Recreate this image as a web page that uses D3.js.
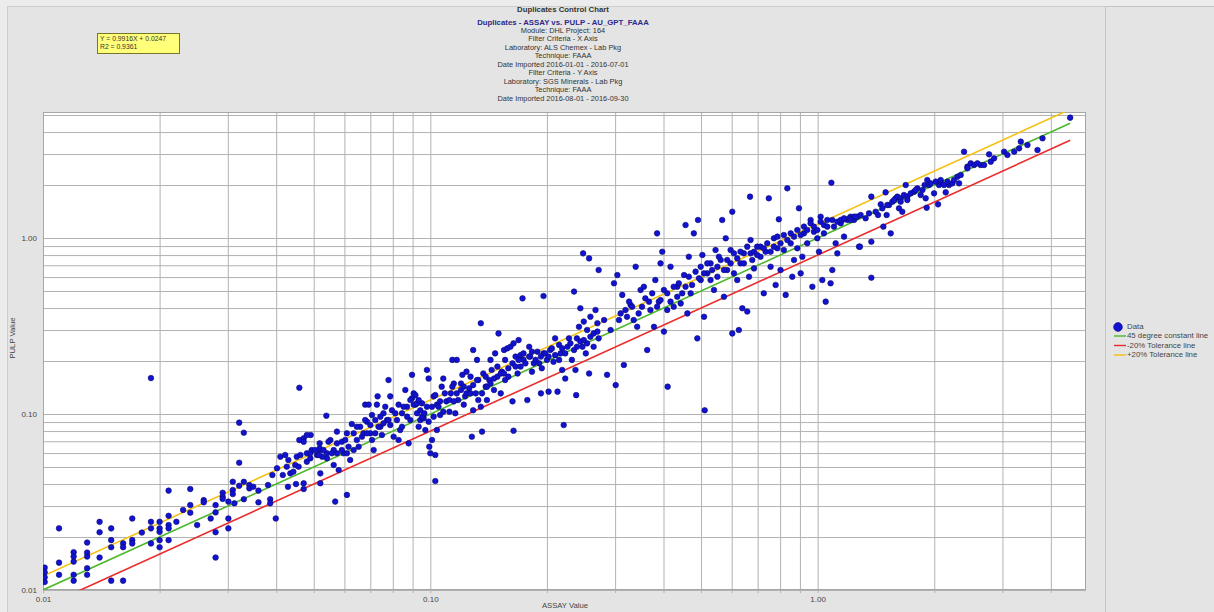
<!DOCTYPE html>
<html>
<head>
<meta charset="utf-8">
<script src="https://cdn.jsdelivr.net/npm/d3@7/dist/d3.min.js"></script>
<style>
  html, body { margin: 0; padding: 0; background: #e6e6e6; }
  svg { display: block; font-family: "Liberation Sans", Arial, sans-serif; }
</style>
</head>
<body>
<svg id="chart" width="1214" height="612"></svg>
<script>
// Duplicate pairs [ASSAY, PULP], grouped by assay range
const pairsLow = [
  [0.0101,0.0134],[0.0101,0.0126],[0.0101,0.0118],[0.0101,0.0111],[0.0110,0.0224],[0.0110,0.0143],
  [0.0110,0.0122],[0.0120,0.0164],[0.0120,0.0155],[0.0120,0.0145],[0.0120,0.0122],[0.0120,0.0113],
  [0.0130,0.0186],[0.0130,0.0163],[0.0130,0.0155],[0.0130,0.0133],[0.0130,0.0122],[0.0140,0.0244],
  [0.0140,0.0213],[0.0140,0.0153],[0.0150,0.0224],[0.0150,0.0192],[0.0150,0.0175],[0.0150,0.0113],
  [0.0161,0.0184],[0.0161,0.0175],[0.0161,0.0113],[0.0170,0.0255],[0.0170,0.0192],[0.0170,0.0184],
  [0.0180,0.0212],[0.0190,0.0244],[0.0190,0.0224],[0.0190,0.0184],[0.0190,0.160],[0.0200,0.0244],
  [0.0200,0.0224],[0.0200,0.0214],[0.0200,0.0192],[0.0200,0.0175],[0.0211,0.0367],[0.0211,0.0264],
  [0.0211,0.0234],[0.0211,0.0224],[0.0211,0.0192],[0.0221,0.0244],[0.0230,0.0285],[0.0240,0.0375],
  [0.0240,0.0304],[0.0240,0.0275],[0.0250,0.0234],[0.0260,0.0324],[0.0260,0.0315],[0.0271,0.0255],
  [0.0279,0.0304],[0.0279,0.0276],[0.0279,0.0213],[0.0279,0.0153],[0.0291,0.0357],[0.0291,0.0339],
  [0.0291,0.0329],[0.0301,0.0318],[0.0301,0.0255],[0.0301,0.0224],[0.0309,0.0412],[0.0309,0.0370],
  [0.0309,0.0351],[0.0312,0.0311],[0.0321,0.0893],[0.0321,0.0529],[0.0321,0.0391],[0.0330,0.0783],
  [0.0330,0.0412],[0.0330,0.0328],[0.0341,0.0395],[0.0341,0.0378],[0.0349,0.0386],[0.0360,0.0367],
  [0.0360,0.0315],[0.0381,0.0395],[0.0386,0.0328],[0.0386,0.0311],[0.0399,0.0255],[0.0391,0.0450],
  [0.0402,0.0492],[0.0410,0.0572],[0.0416,0.0450],[0.0422,0.0585],[0.0426,0.0502],[0.0430,0.0548],
  [0.0435,0.0460],[0.0443,0.0470],[0.0448,0.0513],[0.0452,0.0572],[0.0457,0.0502],[0.0462,0.0585],
  [0.0429,0.0386],[0.0450,0.0400],[0.0471,0.0404],[0.0471,0.0375],[0.0480,0.0598],[0.0480,0.0536],
  [0.0490,0.0560],[0.0510,0.0585],[0.0520,0.0624],[0.0459,0.141],[0.0459,0.0711],[0.0471,0.0728],
  [0.0491,0.0760],[0.0518,0.0681],[0.0518,0.0638],[0.0520,0.0460],[0.0520,0.0404],[0.0539,0.0978],
  [0.0541,0.0598],[0.0541,0.0560],[0.0552,0.0711],[0.0563,0.0513],[0.0574,0.0794],[0.0574,0.0681],
  [0.0568,0.0318],[0.0580,0.0480],[0.0494,0.0624],[0.0526,0.0572],[0.0563,0.0624],
  [0.0471,0.0696],[0.0480,0.0760],[0.0490,0.0598],[0.0504,0.0624],[0.0515,0.0585],[0.0530,0.0624],
  [0.0546,0.0696],[0.0557,0.0598],[0.0574,0.0598]
];

const pairsMid = [
  [0.0591,0.0696],[0.0597,0.0598],[0.0609,0.0777],[0.0609,0.0347],[0.0621,0.0548],[0.0627,0.0877],
  [0.0634,0.0624],[0.0646,0.0712],[0.0659,0.0847],[0.0666,0.0743],[0.0679,0.113],[0.0686,0.0905],
  [0.0693,0.113],[0.0700,0.0777],[0.0707,0.0712],[0.0714,0.0624],[0.0721,0.0924],[0.0728,0.113],
  [0.0731,0.126],[0.0743,0.0847],[0.0750,0.0760],[0.0757,0.101],[0.0773,0.0924],[0.0780,0.156],
  [0.0788,0.126],[0.0788,0.0866],[0.0804,0.0743],[0.0820,0.0924],[0.0828,0.0712],[0.0836,0.0811],
  [0.0845,0.101],[0.0862,0.137],[0.0871,0.110],[0.0879,0.0681],[0.0888,0.0924],[0.0897,0.123],
  [0.0897,0.167],[0.0906,0.131],[0.0915,0.113],[0.0924,0.101],[0.0933,0.0847],[0.0942,0.0924],
  [0.0952,0.115],[0.0961,0.0945],[0.0971,0.0811],[0.0980,0.178],[0.0990,0.159],[0.0990,0.0905],
  [0.0994,0.0652],[0.100,0.0598],[0.101,0.0712],[0.102,0.126],[0.103,0.0416],[0.103,0.0585],
  [0.104,0.0811],[0.104,0.113],[0.106,0.0987],[0.107,0.143],[0.108,0.159],[0.110,0.118],
  [0.112,0.103],[0.113,0.131],[0.114,0.203],[0.115,0.149],[0.116,0.101],[0.117,0.203],
  [0.118,0.120],[0.120,0.137],[0.121,0.167],[0.122,0.113],[0.123,0.126],[0.124,0.174],
  [0.126,0.140],[0.127,0.163],[0.128,0.0743],[0.129,0.231],[0.129,0.105],[0.131,0.131],
  [0.132,0.203],[0.133,0.156],[0.135,0.328],[0.135,0.110],[0.136,0.0794],[0.137,0.170],
  [0.139,0.143],[0.140,0.120],[0.142,0.156],[0.143,0.203],[0.144,0.178],[0.146,0.137],
  [0.147,0.221],[0.149,0.163],[0.150,0.287],[0.152,0.131],[0.153,0.174],[0.155,0.231],
  [0.156,0.156],[0.158,0.236],[0.159,0.182],[0.161,0.241],[0.163,0.118],[0.164,0.0804],
  [0.164,0.252],[0.166,0.212],[0.168,0.170],[0.169,0.263],[0.171,0.216],[0.173,0.454],
  [0.174,0.203],[0.178,0.120],[0.180,0.241],[0.181,0.212],[0.183,0.174],[0.185,0.194],
  [0.189,0.226],[0.193,0.131],[0.194,0.182],[0.196,0.468],[0.196,0.221],[0.200,0.203],
  [0.202,0.134],[0.204,0.231],[0.208,0.198],[0.210,0.269],[0.213,0.134],[0.215,0.247],
  [0.217,0.221],[0.219,0.178],[0.221,0.0866],[0.223,0.159],[0.226,0.241],[0.228,0.269],
  [0.232,0.203],[0.235,0.496],[0.237,0.178],[0.238,0.128],[0.239,0.269],[0.242,0.313],
  [0.244,0.399],[0.247,0.241],[0.248,0.818],[0.249,0.335],[0.252,0.221],[0.254,0.300],
  [0.257,0.170],[0.257,0.766],[0.259,0.357],[0.264,0.241],[0.267,0.390],[0.270,0.328],
  [0.272,0.269],[0.272,0.658],
  [0.0591,0.0624],[0.0603,0.0712],[0.0609,0.0598],[0.0615,0.0652],[0.0634,0.0777],[0.0646,0.0847],
  [0.0653,0.0652],[0.0672,0.0777],[0.0679,0.0924],[0.0686,0.0777],[0.0700,0.0866],[0.0707,0.0987],
  [0.0721,0.0777],[0.0735,0.0847],[0.0743,0.0966],[0.0757,0.0885],[0.0765,0.110],[0.0780,0.0924],
  [0.0796,0.105],[0.0812,0.101],[0.0828,0.113],[0.0845,0.0847],[0.0853,0.110],[0.0871,0.0966],
  [0.0888,0.120],[0.0906,0.113],[0.0915,0.128],[0.0924,0.115],[0.0933,0.120],[0.0942,0.105],
  [0.0952,0.0966],[0.0965,0.101],[0.0980,0.110],[0.101,0.110],[0.102,0.0966],[0.103,0.128],
  [0.105,0.110],[0.106,0.118],[0.108,0.103],[0.109,0.131],[0.112,0.120],[0.114,0.143],
  [0.115,0.118],[0.117,0.131],[0.120,0.149],[0.122,0.143],[0.124,0.131],[0.127,0.131],
  [0.129,0.146],[0.132,0.156],[0.133,0.120],[0.136,0.131],[0.139,0.163],[0.140,0.143],
  [0.143,0.149],[0.146,0.159],[0.149,0.186],[0.152,0.170],[0.155,0.170],[0.156,0.203],
  [0.159,0.163],[0.163,0.194],[0.166,0.186],[0.169,0.203],[0.171,0.186],[0.174,0.221],
  [0.176,0.194],[0.180,0.212],[0.183,0.226],[0.187,0.203],[0.191,0.194],[0.193,0.212],
  [0.198,0.221],[0.202,0.212],[0.206,0.236],[0.210,0.216],[0.215,0.203],[0.219,0.236],
  [0.223,0.221],[0.230,0.252],[0.235,0.231],[0.239,0.241],[0.244,0.258],[0.249,0.263],
  [0.254,0.252],[0.259,0.275],[0.264,0.287],[0.270,0.294]
];

const pairsHigh = [
  [0.286,0.167],[0.298,0.553],[0.301,0.146],[0.304,0.616],[0.313,0.475],[0.316,0.190],
  [0.322,0.357],[0.329,0.416],[0.339,0.687],[0.342,0.313],[0.349,0.507],[0.356,0.529],
  [0.363,0.231],[0.370,0.390],[0.378,0.313],[0.381,0.577],[0.385,1.063],[0.389,0.435],
  [0.393,0.718],[0.397,0.836],[0.401,0.294],[0.409,0.485],[0.410,0.143],[0.417,0.687],
  [0.425,0.407],[0.434,0.529],[0.443,0.425],[0.452,0.616],[0.456,1.185],[0.461,0.373],
  [0.465,0.783],[0.470,0.485],[0.479,1.063],[0.489,0.269],[0.491,1.266],[0.499,0.577],
  [0.504,0.801],[0.509,0.357],[0.511,0.105],[0.519,0.630],[0.529,0.718],[0.540,0.507],
  [0.545,0.855],[0.551,0.603],[0.562,0.750],[0.567,1.266],[0.573,0.464],[0.579,0.996],
  [0.584,0.658],[0.596,0.855],[0.602,0.287],[0.602,1.411],[0.608,0.630],[0.620,0.577],
  [0.626,0.300],[0.632,0.718],[0.639,0.399],[0.645,0.818],[0.658,0.382],[0.665,0.603],
  [0.669,1.718],[0.671,0.974],[0.678,0.750],[0.685,0.672],[0.698,0.893],[0.712,0.783],
  [0.726,0.485],[0.734,0.836],[0.748,1.681],[0.756,0.687],[0.771,0.996],[0.779,0.541],
  [0.787,0.874],[0.794,1.277],[0.802,0.658],[0.818,0.855],[0.827,0.475],[0.835,1.915],
  [0.852,0.933],[0.860,0.603],[0.869,0.750],[0.886,0.874],[0.895,1.475],[0.904,0.630],
  [0.913,0.783],[0.922,1.063],[0.940,0.933],[0.959,1.266],[0.969,0.529],[0.978,1.086],
  [0.998,0.996],[1.008,0.836],[1.018,1.322],[1.028,0.577],[1.038,1.063],[1.049,0.435],
  [1.059,1.266],[1.080,0.553],[1.085,2.062],[1.091,0.658],[1.102,1.160],[1.113,0.933],
  [1.124,0.818],[1.147,1.212],[1.158,1.266],[1.170,1.018],[1.193,1.266],[1.217,1.322],
  [1.241,1.266],[1.266,1.322],[1.279,0.893],
  [0.281,0.342],[0.292,0.300],[0.307,0.342],[0.310,0.373],[0.319,0.390],[0.326,0.435],
  [0.332,0.407],[0.335,0.342],[0.345,0.373],[0.352,0.407],[0.359,0.454],[0.367,0.435],
  [0.374,0.485],[0.385,0.407],[0.393,0.444],[0.401,0.507],[0.409,0.390],[0.417,0.435],
  [0.425,0.529],[0.434,0.464],[0.438,0.553],[0.447,0.485],[0.456,0.529],[0.465,0.603],
  [0.474,0.541],[0.484,0.644],[0.494,0.590],[0.499,0.687],[0.509,0.630],[0.519,0.718],
  [0.529,0.577],[0.534,0.658],[0.551,0.687],[0.556,0.783],[0.573,0.658],[0.584,0.750],
  [0.596,0.718],[0.608,0.818],[0.620,0.766],[0.632,0.836],[0.645,0.718],[0.658,0.893],
  [0.671,0.818],[0.685,0.836],[0.698,0.801],[0.712,0.893],[0.726,0.874],[0.741,0.933],
  [0.756,0.836],[0.771,0.893],[0.787,1.018],[0.802,0.933],[0.818,1.040],[0.835,0.974],
  [0.852,1.063],[0.869,1.018],[0.886,1.110],[0.904,1.040],[0.922,1.160],[0.940,1.110],
  [0.959,1.212],[0.978,1.160],[0.998,1.110],[1.018,1.238],[1.038,1.185],[1.059,1.160],
  [1.091,1.266],[1.124,1.238],[1.147,1.266],[1.170,1.294],[1.205,1.294],[1.217,1.266],
  [1.241,1.322],[1.254,1.322]
];

const pairsTop = [
  [1.286,0.893],[1.376,0.953],[1.376,1.718],[1.376,0.595],[1.432,1.351],[1.455,1.553],
  [1.478,1.160],[1.498,1.818],[1.507,1.351],[1.529,1.540],[1.544,1.063],[1.559,1.608],
  [1.590,1.681],[1.606,1.718],[1.622,1.475],[1.638,1.681],[1.654,1.411],[1.671,1.755],
  [1.688,2.001],[1.704,1.718],[1.739,1.794],[1.774,1.834],[1.809,1.915],[1.845,1.755],
  [1.889,2.001],[1.901,1.681],[1.912,1.487],[1.919,2.136],[1.939,2.001],[1.998,1.794],
  [2.018,2.090],[2.046,1.553],[2.058,2.001],[2.078,2.090],[2.120,2.001],[2.141,1.818],
  [2.184,2.001],[2.228,2.045],[2.295,2.231],[2.318,2.045],[2.388,3.094],[2.436,2.543],
  [2.485,2.657],[2.535,2.599],[2.637,2.599],[2.690,2.599],[2.771,2.988],[2.799,2.715],
  [3.030,3.094],[3.313,3.232],[3.346,3.527],[3.695,3.162],[3.807,3.685],[4.487,4.830],
  [1.291,1.351],[1.330,1.294],[1.357,1.381],[1.412,1.411],[1.469,1.475],[1.513,1.540],
  [1.575,1.644],[1.638,1.608],[1.704,1.644],[1.791,1.874],[1.864,1.874],[1.958,2.045],
  [2.078,2.136],[2.163,2.090],[2.250,2.136],[2.341,2.280],[2.436,2.488],[2.585,2.657],
  [2.855,2.836],[3.090,2.962],[3.217,3.094],[3.481,3.377]
];

// Reference lines: slope against the assay value
const referenceLines = [
  { name: "45 degree constant line", factor: 1.0, color: "#4cb82a" },
  { name: "-20% Tolerance line",     factor: 0.8, color: "#ec2b2b" },
  { name: "+20% Tolerance line",     factor: 1.2, color: "#f5c010" }
];

const titleLines = [
  "Duplicates Control Chart",
  "Duplicates - ASSAY vs. PULP - AU_GPT_FAAA",
  "Module: DHL Project: 164",
  "Filter Criteria - X Axis",
  "Laboratory: ALS Chemex - Lab Pkg",
  "Technique: FAAA",
  "Date Imported 2016-01-01 - 2016-07-01",
  "Filter Criteria - Y Axis",
  "Laboratory: SGS Minerals - Lab Pkg",
  "Technique: FAAA",
  "Date Imported 2016-08-01 - 2016-09-30"
];

const fitLines = ["Y = 0.9916X + 0.0247", "R2 = 0.9361"];
const tickValues = [0.01, 0.1, 1];
const tickLabels = ["0.01", "0.10", "1.00"];
const xAxisTitle = "ASSAY Value";
const yAxisTitle = "PULP Value";

// ---------------------------------------------------------------
const W = 1214, H = 612;
const plot = { left: 43, right: 1086, top: 112, bottom: 590 };
const pw = plot.right - plot.left, ph = plot.bottom - plot.top;
const fontStack = "Liberation Sans, Arial, sans-serif";

const allPairs = pairsLow.concat(pairsMid, pairsHigh, pairsTop);

const x = d3.scaleLog().domain([0.01, 4.93]).range([plot.left, plot.right]);
const y = d3.scaleLog().domain([0.01, 5.2]).range([plot.bottom, plot.top]);

const svg = d3.select("#chart");

// panel backgrounds
svg.append("rect").attr("width", W).attr("height", H).attr("fill", "#ececec");
svg.append("rect").attr("x", 7.5).attr("y", 6.5).attr("width", 1098).attr("height", 610)
  .attr("fill", "#e4e4e4").attr("stroke", "#cdcdcd");
svg.append("rect").attr("x", 1105.5).attr("y", 6.5).attr("width", 120).attr("height", 610)
  .attr("fill", "#e4e4e4").attr("stroke", "#c4c4c4");

// plot area
svg.append("rect")
  .attr("x", plot.left).attr("y", plot.top).attr("width", pw).attr("height", ph)
  .attr("fill", "#ffffff");

// grid lines through the d3 axes
const gridColor = "#b2b2b2";
const xGrid = svg.append("g")
  .attr("transform", `translate(0,${plot.bottom})`)
  .call(d3.axisBottom(x).tickSizeInner(-ph).tickSizeOuter(0).tickFormat(""));
xGrid.select(".domain").remove();
xGrid.selectAll(".tick line").attr("stroke", gridColor).attr("y1", 3);

const yGrid = svg.append("g")
  .attr("transform", `translate(${plot.left},0)`)
  .call(d3.axisLeft(y).tickSizeInner(-pw).tickSizeOuter(0).tickFormat(""));
yGrid.select(".domain").remove();
yGrid.selectAll(".tick line").attr("stroke", gridColor);

// plot frame
svg.append("rect")
  .attr("x", plot.left + 0.5).attr("y", plot.top + 0.5).attr("width", pw - 1).attr("height", ph - 1)
  .attr("fill", "none").attr("stroke", "#a5a5a5");

// tick labels
const xAxis = svg.append("g")
  .attr("transform", `translate(0,${plot.bottom})`)
  .call(d3.axisBottom(x).tickValues(tickValues).tickSize(0).tickPadding(6)
    .tickFormat((d, i) => tickLabels[i]));
xAxis.select(".domain").remove();
xAxis.selectAll("text").attr("font-size", 8).attr("fill", "#444").attr("font-family", fontStack);

const yAxis = svg.append("g")
  .attr("transform", `translate(${plot.left},0)`)
  .call(d3.axisLeft(y).tickValues(tickValues).tickSize(0).tickPadding(6)
    .tickFormat((d, i) => tickLabels[i]));
yAxis.select(".domain").remove();
yAxis.selectAll("text").attr("font-size", 8).attr("fill", "#444").attr("font-family", fontStack);

// axis titles
svg.append("text").attr("x", 565).attr("y", 608).attr("text-anchor", "middle")
  .attr("font-size", 7.7).attr("fill", "#444").text(xAxisTitle);
svg.append("text").attr("transform", "translate(15,338) rotate(-90)").attr("text-anchor", "middle")
  .attr("font-size", 7.7).attr("fill", "#444").text(yAxisTitle);

// clip for the reference lines and markers
svg.append("clipPath").attr("id", "plotClip").append("rect")
  .attr("x", plot.left).attr("y", plot.top).attr("width", pw).attr("height", ph);

const maxAssay = d3.max(allPairs, d => d[0]);
const lineGen = d3.line().x(d => x(d[0])).y(d => y(d[1]));
const lineLayer = svg.append("g").attr("clip-path", "url(#plotClip)");
referenceLines.forEach(r => {
  const ends = [0.01, maxAssay].map(v => [v, v * r.factor]);
  lineLayer.append("path").datum(ends)
    .attr("d", lineGen).attr("fill", "none")
    .attr("stroke", r.color).attr("stroke-width", 1.6);
});

// data markers
svg.append("g").attr("clip-path", "url(#plotClip)")
  .selectAll("circle").data(allPairs).join("circle")
  .attr("cx", d => x(d[0])).attr("cy", d => y(d[1])).attr("r", 2.8)
  .attr("fill", "#1212d2").attr("stroke", "#0a0a70").attr("stroke-width", 0.6);

// chart titles
const titleG = svg.append("g").attr("text-anchor", "middle");
const titleY = [10, 22.5, 31, 39.5, 48, 56.5, 65, 73.5, 82, 90.5, 99];
titleLines.forEach((t, i) => {
  titleG.append("text")
    .attr("x", 563).attr("y", titleY[i]).attr("dominant-baseline", "middle")
    .attr("font-size", i < 2 ? 7.8 : 7.4)
    .attr("font-weight", i < 2 ? "bold" : "normal")
    .attr("fill", i === 1 ? "#2a2a8c" : "#333")
    .text(t);
});

// regression box
const fitG = svg.append("g");
fitG.append("rect").attr("x", 97.5).attr("y", 33.5).attr("width", 82).attr("height", 20)
  .attr("fill", "#ffff7a").attr("stroke", "#77772a");
fitLines.forEach((t, i) => {
  fitG.append("text").attr("x", 100).attr("y", 39.5 + i * 8).attr("dominant-baseline", "middle")
    .attr("font-size", 6.8).attr("fill", "#333").text(t);
});

// legend
const legend = svg.append("g").attr("font-size", 7.8).attr("fill", "#444");
legend.append("circle").attr("cx", 1118).attr("cy", 327).attr("r", 4.4).attr("fill", "#1212d2")
  .attr("stroke", "#0a0a70").attr("stroke-width", 0.6);
legend.append("text").attr("x", 1127).attr("y", 327).attr("dominant-baseline", "middle").text("Data");
referenceLines.forEach((r, i) => {
  const ly = 336 + i * 9.5;
  legend.append("line").attr("x1", 1114).attr("x2", 1126).attr("y1", ly).attr("y2", ly)
    .attr("stroke", r.color).attr("stroke-width", 1.4);
  legend.append("text").attr("x", 1127).attr("y", ly).attr("dominant-baseline", "middle").text(r.name);
});
</script>
</body>
</html>
